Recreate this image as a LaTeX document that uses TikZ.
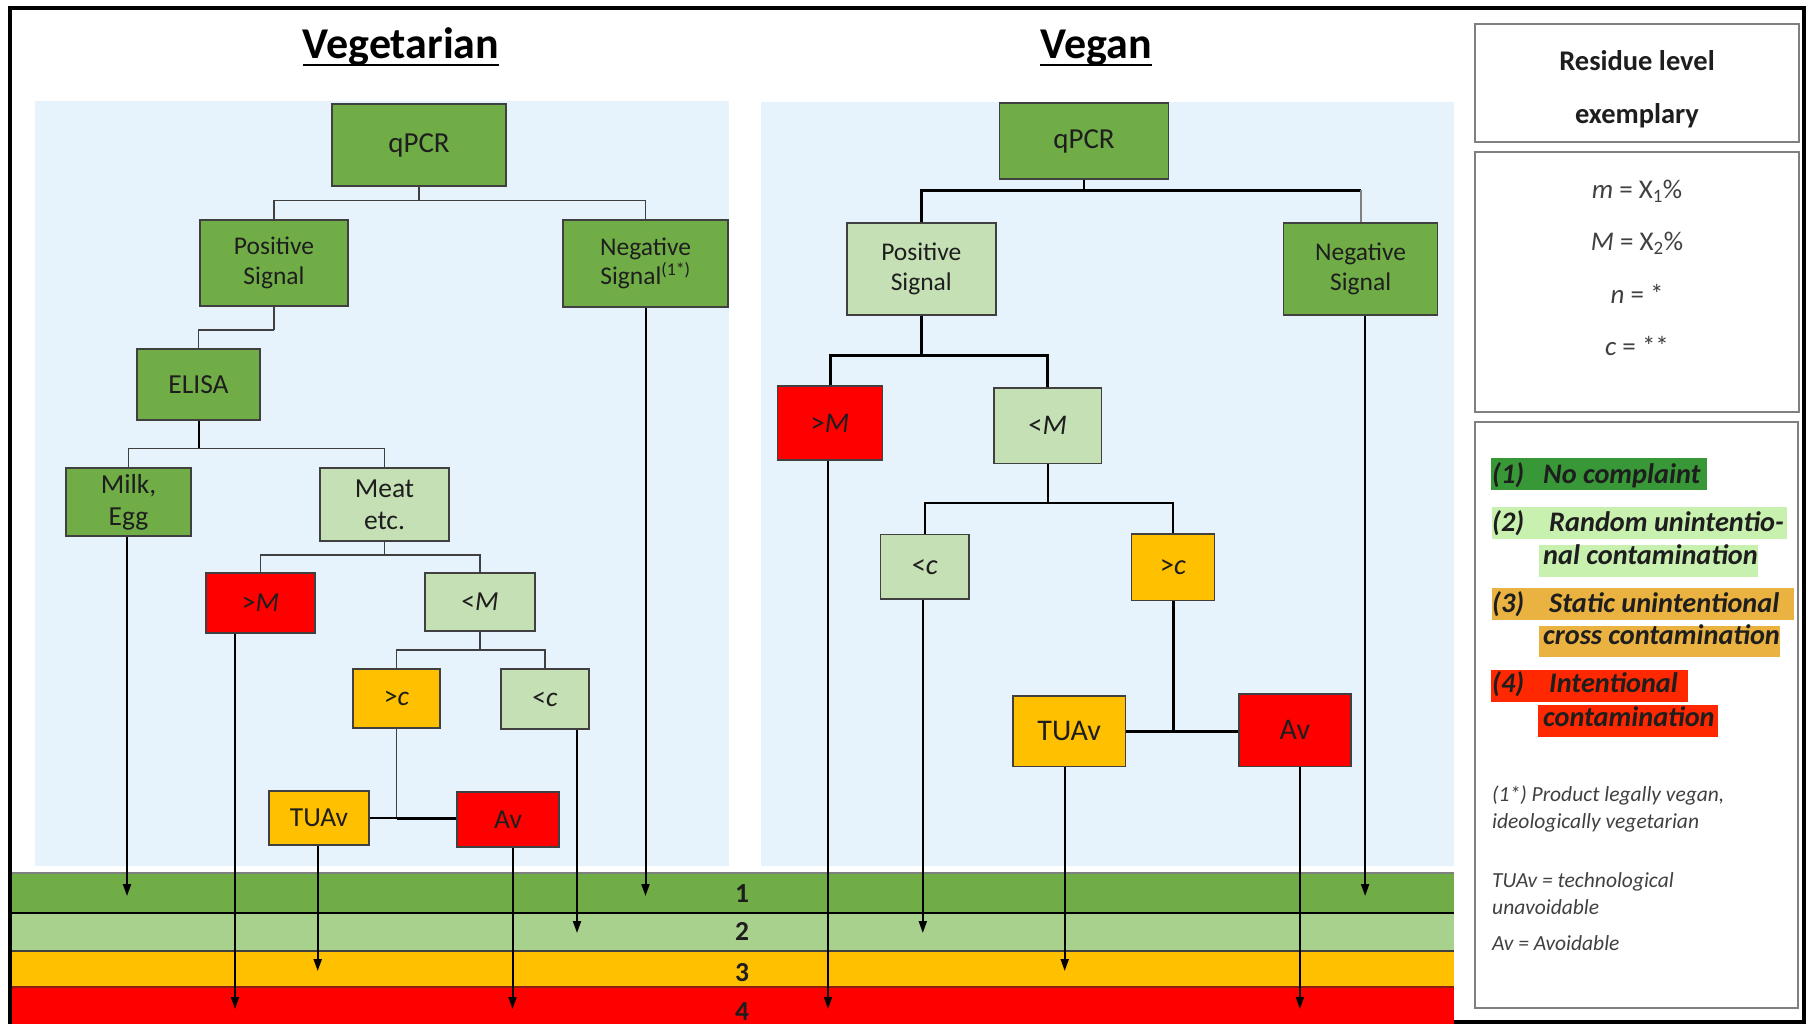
\documentclass[tikz,border=0pt]{standalone}
\usepackage{fontspec}
\setmainfont{Carlito}
\usetikzlibrary{arrows.meta,calc}

\definecolor{dgreen}{RGB}{112,173,71}
\definecolor{lgreen}{RGB}{197,224,180}
\definecolor{orng}{RGB}{255,192,0}
\definecolor{rred}{RGB}{255,0,0}
\definecolor{bandtwo}{RGB}{169,209,142}
\definecolor{panel}{RGB}{230,242,252}
\definecolor{bord}{RGB}{64,64,64}
\definecolor{txt}{RGB}{30,30,30}
\definecolor{legG}{RGB}{56,152,56}
\definecolor{legL}{RGB}{200,240,175}
\definecolor{legO}{RGB}{234,178,64}
\definecolor{legR}{RGB}{255,40,0}
\definecolor{boxgray}{RGB}{128,128,128}
\definecolor{ftxt}{RGB}{64,64,64}
\definecolor{darkred}{RGB}{140,30,20}

\newcommand\fsz[2]{\fontsize{#1}{#2}\selectfont}

\tikzset{
  nbox/.style={draw=bord, line width=1.5pt, inner sep=0pt, align=center, text=txt, font=\fsz{27.5}{32}},
  dg/.style={nbox, fill=dgreen},
  lg/.style={nbox, fill=lgreen},
  og/.style={nbox, fill=orng},
  rd/.style={nbox, fill=rred},
  wh/.style 2 args={minimum width=#1pt, minimum height=#2pt},
  thinl/.style={draw=bord, line width=1.5pt},
  medl/.style={draw=black, line width=2pt},
  thickl/.style={draw=black, line width=3pt},
  arr/.style={draw=black, line width=2pt, -{Triangle[length=12pt,width=8pt]}},
  ttl/.style={font=\bfseries\fsz{44}{50}, anchor=base, inner sep=0pt},
  blbl/.style={font=\bfseries\fsz{27.5}{32}, anchor=base, inner sep=0pt, text=txt},
  lgd/.style={font=\bfseries\itshape\fsz{28.3}{32}, anchor=base west, inner sep=0pt, text=txt},
  fnote/.style={font=\itshape\fsz{21.5}{27}, anchor=base west, inner sep=0pt, text=ftxt},
  mtxt/.style={font=\fsz{27}{32}, anchor=base, inner sep=0pt, text=ftxt},
  lbox/.style={draw=boxgray, line width=2pt, fill=white},
}

\begin{document}
\begin{tikzpicture}[x=1pt,y=-1pt]
\useasboundingbox (0,0) rectangle (1806,1024);
\fill[white] (0,0) rectangle (1806,1024);

% outer frame
\draw[line width=4pt] (10,8) rectangle (1804,1022);

% panels
\fill[panel] (35,101) rectangle (729,866);
\fill[panel] (761,102) rectangle (1454,866);

% titles
\node[ttl] (tVeg) at (401,59) {Vegetarian};
\draw[line width=2.5pt] ([yshift=-6pt]tVeg.base west) -- ([yshift=-6pt]tVeg.base east);
\node[ttl] (tVgn) at (1096,59) {Vegan};
\draw[line width=2.5pt] ([yshift=-6pt]tVgn.base west) -- ([yshift=-6pt]tVgn.base east);

% bands
\fill[dgreen] (12,873) rectangle (1454,913);
\fill[bandtwo] (12,913) rectangle (1454,951);
\fill[orng] (12,951) rectangle (1454,987);
\fill[rred] (12,987) rectangle (1454,1024);
\draw[gray, line width=1.5pt] (12,873) -- (1454,873);
\draw[black, line width=2pt] (12,913) -- (1454,913);
\draw[bord, line width=1.2pt] (12,951) -- (1454,951);
\draw[darkred, line width=1.2pt] (12,987) -- (1454,987);
\node[blbl] (b1) at (742,902) {1};
\node[blbl] (b2) at (742,940) {2};
\node[blbl] (b3) at (742,981) {3};
\node[blbl] (b4) at (742,1020) {4};
\coordinate (e1) at (0,896);
\coordinate (e2) at (0,933);
\coordinate (e3) at (0,971);
\coordinate (e4) at (0,1009);

% ---------- left tree ----------
\node[dg, wh={174}{82}, font=\fsz{29}{34}] (LqPCR) at (419,145) {qPCR};
\node[dg, wh={148}{86}, font=\fsz{25.5}{29.5}] (Lpos) at (274,263) {Positive\\Signal};
\node[dg, wh={165}{87}, font=\fsz{25.5}{29.5}] (Lneg) at (645.5,263.5) {Negative\\Signal\textsuperscript{(1*)}};
\node[dg, wh={123}{71}] (Lelisa) at (198.5,384.5) {ELISA};
\node[dg, wh={125}{68}] (Lmilk) at (128.5,502) {Milk,\\Egg};
\node[lg, wh={129}{73}] (Lmeat) at (384.5,504.5) {Meat\\etc.};
\node[rd, wh={109}{60}] (LgtM) at (260.5,603) {>\textit{M}};
\node[lg, wh={110}{58}] (LltM) at (480,602) {<\textit{M}};
\node[og, wh={87}{59}] (Lgtc) at (396.5,698.5) {>\textit{c}};
\node[lg, wh={88}{60}] (Lltc) at (545,699) {<\textit{c}};
\node[og, wh={100}{54}] (Ltuav) at (319,818) {TUAv};
\node[rd, wh={102}{55}] (Lav) at (508,819.5) {Av};

\draw[thinl] (LqPCR.south) -- ++(0,14) coordinate (lj1);
\draw[thinl] (lj1) -| (Lpos.north);
\draw[thinl] (lj1) -| (Lneg.north);
\draw[thinl] (Lpos.south) -- ++(0,23) coordinate (lj2);
\draw[thinl] (lj2) -| (Lelisa.north);
\draw[medl] (Lelisa.south) -- ++(0,27.5) coordinate (lj3);
\draw[thinl] (lj3) -| (Lmilk.north);
\draw[thinl] (lj3) -| (Lmeat.north);
\draw[thinl] (Lmeat.south) -- ++(0,13) coordinate (lj4);
\draw[thinl] (lj4) -| (LgtM.north);
\draw[thinl] (lj4) -| (LltM.north);
\draw[thinl] (LltM.south) -- ++(0,18) coordinate (lj5);
\draw[thinl] (lj5) -| (Lgtc.north);
\draw[thinl] (lj5) -| (Lltc.north);
\draw[thinl] (Lgtc.south) -- (Lgtc.south |- Ltuav.east) coordinate (lj6);
\draw[medl] (Ltuav.east) -- (lj6);
\draw[thickl] (lj6) -- (lj6 -| Lav.west);

\draw[arr] ([xshift=-1.5pt]Lmilk.south) -- ([xshift=-1.5pt]Lmilk.south |- e1);
\draw[arr] ([xshift=-25.5pt]LgtM.south) -- ([xshift=-25.5pt]LgtM.south |- e4);
\draw[arr] ([xshift=-1.3pt]Ltuav.south) -- ([xshift=-1.3pt]Ltuav.south |- e3);
\draw[arr] ([xshift=4.5pt]Lav.south) -- ([xshift=4.5pt]Lav.south |- e4);
\draw[arr] ([xshift=32pt]Lltc.south) -- ([xshift=32pt]Lltc.south |- e2);
\draw[arr] (Lneg.south) -- (Lneg.south |- e1);

% ---------- right tree ----------
\node[dg, wh={169}{76}, font=\fsz{29}{34}] (RqPCR) at (1084,141) {qPCR};
\node[lg, wh={149}{92}, font=\fsz{25.5}{29.5}] (Rpos) at (921.3,269) {Positive\\Signal};
\node[dg, wh={154}{92}, font=\fsz{25.5}{29.5}] (Rneg) at (1360.6,269) {Negative\\Signal};
\node[rd, wh={105}{74}, font=\fsz{28.5}{32}] (RgtM) at (830,423) {>\textit{M}};
\node[lg, wh={107.5}{75.6}, font=\fsz{28.5}{32}] (RltM) at (1047.7,425.8) {<\textit{M}};
\node[lg, wh={88.4}{64.4}, font=\fsz{28.5}{32}] (Rltc) at (924.8,566.8) {<\textit{c}};
\node[og, wh={82.6}{66.7}, font=\fsz{28.5}{32}] (Rgtc) at (1173,567.3) {>\textit{c}};
\node[og, wh={112.8}{70.7}, font=\fsz{30}{34}] (Rtuav) at (1069.2,731.3) {TUAv};
\node[rd, wh={112.2}{72.7}, font=\fsz{30}{34}] (Rav) at (1294.9,730.3) {Av};

\draw[medl] (RqPCR.south) -- ++(0,10.5) coordinate (rj1);
\draw[thickl] (rj1) -| (Rpos.north);
\draw[thickl] (rj1) -- (rj1 -| Rneg.north);
\draw[gray, line width=2pt] (rj1 -| Rneg.north) -- (Rneg.north);
\draw[thickl] (Rpos.south) -- ++(0,39.6) coordinate (rj2);
\draw[thickl] (rj2) -| (RgtM.north);
\draw[thickl] (rj2) -| (RltM.north);
\draw[medl] (RltM.south) -- ++(0,38.4) coordinate (rj3);
\draw[medl] (rj3) -| (Rltc.north);
\draw[medl] (rj3) -| (Rgtc.north);
\draw[thickl] (Rgtc.south) -- (Rgtc.south |- Rtuav.east) coordinate (rj4);
\draw[thickl] (Rtuav.east) -- (Rtuav.east -| Rav.west);

\draw[arr] ([xshift=-2pt]RgtM.south) -- ([xshift=-2pt]RgtM.south |- e4);
\draw[arr] ([xshift=-2pt]Rltc.south) -- ([xshift=-2pt]Rltc.south |- e2);
\draw[arr] ([xshift=-4.5pt]Rtuav.south) -- ([xshift=-4.5pt]Rtuav.south |- e3);
\draw[arr] ([xshift=5pt]Rav.south) -- ([xshift=5pt]Rav.south |- e4);
\draw[arr] ([xshift=4.5pt]Rneg.south) -- ([xshift=4.5pt]Rneg.south |- e1);

% ---------- legend column ----------
\draw[lbox] (1475,24) rectangle (1799,142);
\node[font=\bfseries\fsz{28.5}{34}, anchor=base, inner sep=0pt, text=txt] (res1) at (1637,71) {Residue level};
\node[font=\bfseries\fsz{28.5}{34}, anchor=base, inner sep=0pt, text=txt] (res2) at (1637,124) {exemplary};

\draw[lbox] (1475,152) rectangle (1799,412);
\node[mtxt] (pm) at (1637,199) {\textit{m} = X\textsubscript{1}\%};
\node[mtxt] (pM) at (1637,251) {\textit{M} = X\textsubscript{2}\%};
\node[mtxt] (pn) at (1637,303) {\textit{n} = *};
\node[mtxt] (pc) at (1637,355) {\textit{c} = **};

\draw[lbox] (1475,422) rectangle (1798,1008);
\fill[legG] (1491,458) rectangle (1707,490);
\node[lgd] (l1a) at (1492,483) {(1)};
\node[lgd] (l1b) at (1543,483) {No complaint};
\fill[legL] (1492,507) rectangle (1787,539);
\fill[legL] (1539,545) rectangle (1758,577);
\node[lgd] (l2a) at (1492,531) {(2)};
\node[lgd] (l2b) at (1549,531) {Random unintentio-};
\node[lgd] (l2c) at (1543,564) {nal contamination};
\fill[legO] (1492,588) rectangle (1794,620);
\fill[legO] (1539,626) rectangle (1780,657);
\node[lgd] (l3a) at (1492,612) {(3)};
\node[lgd] (l3b) at (1549,612) {Static unintentional};
\node[lgd] (l3c) at (1543,644) {cross contamination};
\fill[legR] (1491,670) rectangle (1688,702);
\fill[legR] (1538,705) rectangle (1718,737);
\node[lgd] (l4a) at (1492,692) {(4)};
\node[lgd] (l4b) at (1549,692) {Intentional};
\node[lgd] (l4c) at (1543,726) {contamination};

\node[fnote] (f1) at (1492,801) {(1*) Product legally vegan,};
\node[fnote] (f2) at (1492,828) {ideologically vegetarian};
\node[fnote] (f3) at (1492,887) {TUAv = technological};
\node[fnote] (f4) at (1492,914) {unavoidable};
\node[fnote] (f5) at (1492,950) {Av = Avoidable};
\end{tikzpicture}
\end{document}
